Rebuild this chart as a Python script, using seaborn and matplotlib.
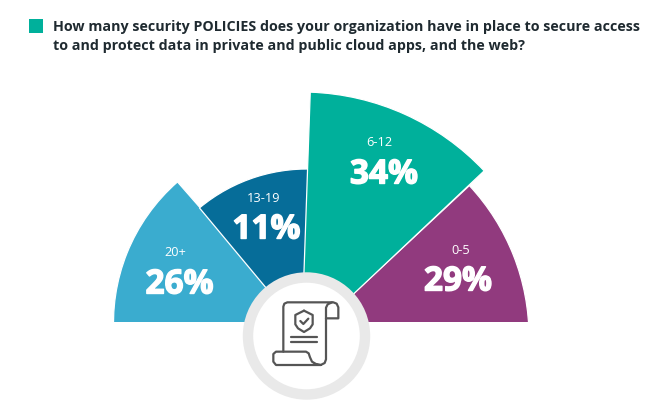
import matplotlib.pyplot as plt
import matplotlib.patheffects as pe
import seaborn as sns
from matplotlib.patches import Circle, Rectangle, Wedge

QUESTION = [
    "How many security POLICIES does your organization have in place to secure access",
    "to and protect data in private and public cloud apps, and the web?",
]
CATEGORIES = ["20+", "13-19", "6-12", "0-5"]
SHARES = [26, 11, 34, 29]

# slice shapes, pixels and degrees
RADII = [187.5, 168, 251, 222]
THETA_START = [131.2, 85, 43.3, 0]
THETA_END = [185, 129.8, 88, 43]
CENTERS = [(301, 323), (307, 337), (301.5, 343), (307, 337)]
CAT_POS = [(175, 253), (264, 199), (379, 143), (461, 251)]
PCT_POS = [(179.5, 285), (266.5, 230), (384, 175), (458, 282)]
DRAW_ORDER = [0, 1, 3, 2]

# icon outlines, in pixels of a 3x crop starting at (230, 260)
ICON_LINES = [
    [(160, 275), (160, 140), (163, 131), (172, 127), (310, 127), (320, 131), (325, 142),
     (325, 175), (288, 175)],
    [(288, 175), (288, 143), (293, 133), (306, 127)],
    [(288, 175), (288, 298), (284, 309), (272, 315), (258, 312), (246, 305), (240, 292),
     (236, 280), (228, 275), (138, 275), (130, 282), (130, 305), (138, 315), (272, 315)],
    [(222, 152), (248, 165), (248, 193), (240, 205), (222, 216), (204, 205), (196, 193),
     (196, 165), (222, 152)],
    [(211, 183), (220, 192), (235, 176)],
    [(183, 230), (262, 230)],
    [(183, 245), (262, 245)],
]


def main():
    sns.set_theme(style="white")
    palette = sns.color_palette(["#3aaccf", "#066d99", "#00b09b", "#913a7e"])

    fig = plt.figure(figsize=(6.54, 4.03), dpi=100)
    ax = fig.add_axes([0, 0, 1, 1])
    ax.set_xlim(0, 654)
    ax.set_ylim(403, 0)
    ax.axis("off")

    # legend square and question
    ax.add_patch(Rectangle((29.3, 18.5), 13.7, 14, color="#00b09b", lw=0))
    for line, y in zip(QUESTION, [26.5, 46]):
        ax.text(53, y, line, fontsize=10.3, fontweight="bold", family="Open Sans",
                color="#1f2a30", va="center", ha="left")

    # fan of slices, cut flat at the base
    base = Rectangle((0, 0), 654, 322, transform=ax.transData)
    for i in DRAW_ORDER:
        wedge = Wedge(CENTERS[i], RADII[i], -THETA_END[i], -THETA_START[i],
                      facecolor=palette[i], edgecolor="white", lw=0.9)
        ax.add_patch(wedge)
        wedge.set_clip_path(base)

    thick = [pe.withStroke(linewidth=1.0, foreground="white")]
    for cat, share, cat_xy, pct_xy in zip(CATEGORIES, SHARES, CAT_POS, PCT_POS):
        ax.text(*cat_xy, cat, color="white", fontsize=9.2, family="Open Sans",
                ha="center", va="center")
        ax.text(*pct_xy, f"{share}%", color="white", fontsize=24, fontweight="bold",
                family="Open Sans", ha="center", va="center", path_effects=thick)

    # ring and icon in the middle
    ax.add_patch(Circle((306.5, 336), 58.5, facecolor="white", edgecolor="#e9e9e9", lw=7.5))
    for pts in ICON_LINES:
        ax.plot([230 + p[0] / 3 for p in pts], [260 + p[1] / 3 for p in pts],
                color="#555555", lw=1.6, solid_joinstyle="round", solid_capstyle="round")

    fig.savefig("out.png", dpi=100)


if __name__ == "__main__":
    main()
